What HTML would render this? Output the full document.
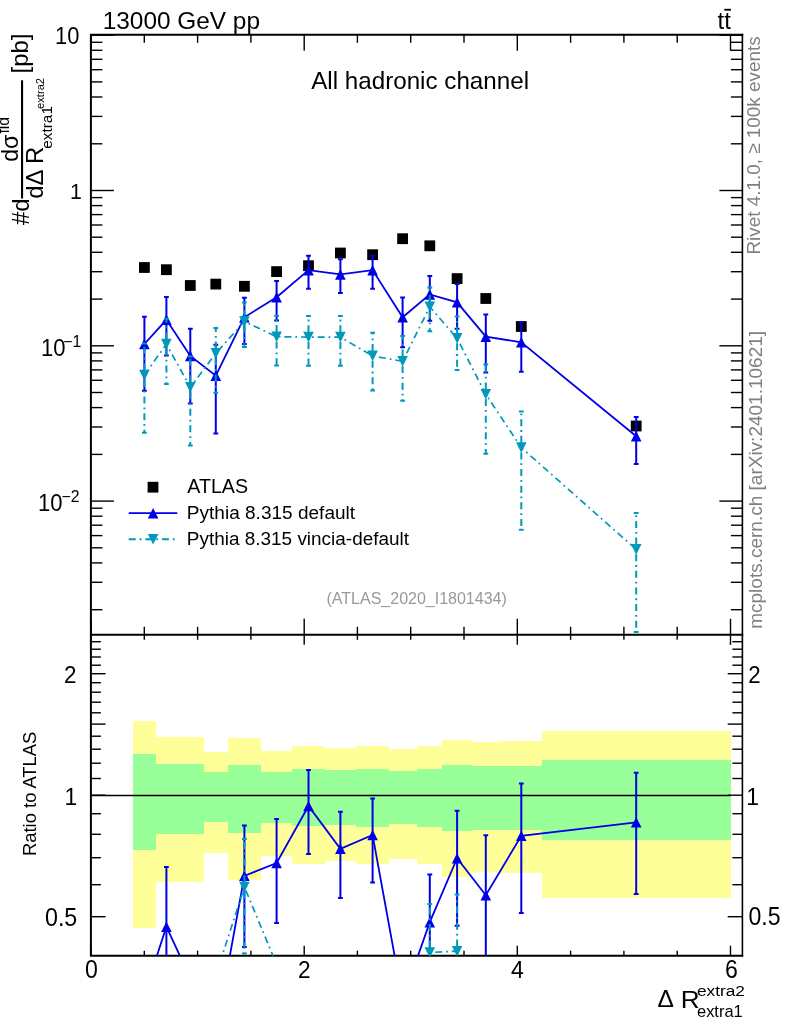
<!DOCTYPE html><html><head><meta charset="utf-8"><title>ATLAS_2020_I1801434</title><style>html,body{margin:0;padding:0;background:#fff;}svg{display:block;will-change:transform;}</style></head><body>
<svg width="786" height="1024" viewBox="0 0 786 1024" font-family="Liberation Sans, Arial, Helvetica, sans-serif">
<rect x="0" y="0" width="786" height="1024" fill="#fff"/>
<defs><clipPath id="cm"><rect x="90.9" y="34.8" width="651.5" height="600.0"/></clipPath><clipPath id="cr"><rect x="90.9" y="634.8" width="651.5" height="320.9000000000001"/></clipPath></defs>
<g shape-rendering="crispEdges">
<rect x="133.3" y="720.5" width="22.4" height="207.1" fill="#ffff99"/>
<rect x="133.3" y="753.8" width="22.4" height="96.0" fill="#99ff99"/>
<rect x="155.7" y="737.0" width="21.1" height="145.0" fill="#ffff99"/>
<rect x="155.7" y="763.8" width="21.1" height="70.0" fill="#99ff99"/>
<rect x="176.8" y="737.0" width="26.9" height="144.5" fill="#ffff99"/>
<rect x="176.8" y="763.8" width="26.9" height="70.0" fill="#99ff99"/>
<rect x="203.7" y="752.0" width="24.4" height="101.4" fill="#ffff99"/>
<rect x="203.7" y="772.0" width="24.4" height="50.0" fill="#99ff99"/>
<rect x="228.1" y="738.0" width="32.9" height="141.5" fill="#ffff99"/>
<rect x="228.1" y="764.5" width="32.9" height="68.2" fill="#99ff99"/>
<rect x="261.0" y="750.7" width="31.0" height="105.6" fill="#ffff99"/>
<rect x="261.0" y="771.5" width="31.0" height="51.8" fill="#99ff99"/>
<rect x="292.0" y="746.4" width="32.8" height="117.1" fill="#ffff99"/>
<rect x="292.0" y="769.0" width="32.8" height="57.0" fill="#99ff99"/>
<rect x="324.8" y="747.6" width="31.4" height="112.9" fill="#ffff99"/>
<rect x="324.8" y="770.2" width="31.4" height="54.9" fill="#99ff99"/>
<rect x="356.2" y="746.4" width="32.8" height="117.5" fill="#ffff99"/>
<rect x="356.2" y="769.0" width="32.8" height="57.5" fill="#99ff99"/>
<rect x="389.0" y="748.8" width="28.1" height="110.4" fill="#ffff99"/>
<rect x="389.0" y="770.6" width="28.1" height="53.6" fill="#99ff99"/>
<rect x="417.1" y="745.8" width="25.3" height="118.2" fill="#ffff99"/>
<rect x="417.1" y="768.7" width="25.3" height="57.9" fill="#99ff99"/>
<rect x="442.4" y="739.9" width="29.7" height="136.6" fill="#ffff99"/>
<rect x="442.4" y="765.0" width="29.7" height="66.3" fill="#99ff99"/>
<rect x="472.1" y="741.6" width="27.7" height="130.7" fill="#ffff99"/>
<rect x="472.1" y="766.4" width="27.7" height="63.2" fill="#99ff99"/>
<rect x="499.8" y="741.1" width="41.7" height="131.6" fill="#ffff99"/>
<rect x="499.8" y="766.0" width="41.7" height="63.7" fill="#99ff99"/>
<rect x="541.5" y="731.2" width="189.0" height="166.5" fill="#ffff99"/>
<rect x="541.5" y="760.2" width="189.0" height="79.5" fill="#99ff99"/>
</g>
<line x1="90.9" y1="795.5" x2="730.5" y2="795.5" stroke="#000" stroke-width="1.4"/>
<g><line x1="90.9" y1="609.7" x2="102.4" y2="609.7" stroke="#000" stroke-width="1.4"/><line x1="742.4" y1="609.7" x2="730.9" y2="609.7" stroke="#000" stroke-width="1.4"/><line x1="90.9" y1="582.3" x2="102.4" y2="582.3" stroke="#000" stroke-width="1.4"/><line x1="742.4" y1="582.3" x2="730.9" y2="582.3" stroke="#000" stroke-width="1.4"/><line x1="90.9" y1="562.9" x2="102.4" y2="562.9" stroke="#000" stroke-width="1.4"/><line x1="742.4" y1="562.9" x2="730.9" y2="562.9" stroke="#000" stroke-width="1.4"/><line x1="90.9" y1="547.8" x2="102.4" y2="547.8" stroke="#000" stroke-width="1.4"/><line x1="742.4" y1="547.8" x2="730.9" y2="547.8" stroke="#000" stroke-width="1.4"/><line x1="90.9" y1="535.6" x2="102.4" y2="535.6" stroke="#000" stroke-width="1.4"/><line x1="742.4" y1="535.6" x2="730.9" y2="535.6" stroke="#000" stroke-width="1.4"/><line x1="90.9" y1="525.2" x2="102.4" y2="525.2" stroke="#000" stroke-width="1.4"/><line x1="742.4" y1="525.2" x2="730.9" y2="525.2" stroke="#000" stroke-width="1.4"/><line x1="90.9" y1="516.2" x2="102.4" y2="516.2" stroke="#000" stroke-width="1.4"/><line x1="742.4" y1="516.2" x2="730.9" y2="516.2" stroke="#000" stroke-width="1.4"/><line x1="90.9" y1="508.2" x2="102.4" y2="508.2" stroke="#000" stroke-width="1.4"/><line x1="742.4" y1="508.2" x2="730.9" y2="508.2" stroke="#000" stroke-width="1.4"/><line x1="90.9" y1="501.1" x2="113.9" y2="501.1" stroke="#000" stroke-width="1.4"/><line x1="742.4" y1="501.1" x2="719.4" y2="501.1" stroke="#000" stroke-width="1.4"/><line x1="90.9" y1="454.4" x2="102.4" y2="454.4" stroke="#000" stroke-width="1.4"/><line x1="742.4" y1="454.4" x2="730.9" y2="454.4" stroke="#000" stroke-width="1.4"/><line x1="90.9" y1="427.0" x2="102.4" y2="427.0" stroke="#000" stroke-width="1.4"/><line x1="742.4" y1="427.0" x2="730.9" y2="427.0" stroke="#000" stroke-width="1.4"/><line x1="90.9" y1="407.6" x2="102.4" y2="407.6" stroke="#000" stroke-width="1.4"/><line x1="742.4" y1="407.6" x2="730.9" y2="407.6" stroke="#000" stroke-width="1.4"/><line x1="90.9" y1="392.5" x2="102.4" y2="392.5" stroke="#000" stroke-width="1.4"/><line x1="742.4" y1="392.5" x2="730.9" y2="392.5" stroke="#000" stroke-width="1.4"/><line x1="90.9" y1="380.3" x2="102.4" y2="380.3" stroke="#000" stroke-width="1.4"/><line x1="742.4" y1="380.3" x2="730.9" y2="380.3" stroke="#000" stroke-width="1.4"/><line x1="90.9" y1="369.9" x2="102.4" y2="369.9" stroke="#000" stroke-width="1.4"/><line x1="742.4" y1="369.9" x2="730.9" y2="369.9" stroke="#000" stroke-width="1.4"/><line x1="90.9" y1="360.9" x2="102.4" y2="360.9" stroke="#000" stroke-width="1.4"/><line x1="742.4" y1="360.9" x2="730.9" y2="360.9" stroke="#000" stroke-width="1.4"/><line x1="90.9" y1="352.9" x2="102.4" y2="352.9" stroke="#000" stroke-width="1.4"/><line x1="742.4" y1="352.9" x2="730.9" y2="352.9" stroke="#000" stroke-width="1.4"/><line x1="90.9" y1="345.8" x2="113.9" y2="345.8" stroke="#000" stroke-width="1.4"/><line x1="742.4" y1="345.8" x2="719.4" y2="345.8" stroke="#000" stroke-width="1.4"/><line x1="90.9" y1="299.1" x2="102.4" y2="299.1" stroke="#000" stroke-width="1.4"/><line x1="742.4" y1="299.1" x2="730.9" y2="299.1" stroke="#000" stroke-width="1.4"/><line x1="90.9" y1="271.7" x2="102.4" y2="271.7" stroke="#000" stroke-width="1.4"/><line x1="742.4" y1="271.7" x2="730.9" y2="271.7" stroke="#000" stroke-width="1.4"/><line x1="90.9" y1="252.3" x2="102.4" y2="252.3" stroke="#000" stroke-width="1.4"/><line x1="742.4" y1="252.3" x2="730.9" y2="252.3" stroke="#000" stroke-width="1.4"/><line x1="90.9" y1="237.2" x2="102.4" y2="237.2" stroke="#000" stroke-width="1.4"/><line x1="742.4" y1="237.2" x2="730.9" y2="237.2" stroke="#000" stroke-width="1.4"/><line x1="90.9" y1="225.0" x2="102.4" y2="225.0" stroke="#000" stroke-width="1.4"/><line x1="742.4" y1="225.0" x2="730.9" y2="225.0" stroke="#000" stroke-width="1.4"/><line x1="90.9" y1="214.6" x2="102.4" y2="214.6" stroke="#000" stroke-width="1.4"/><line x1="742.4" y1="214.6" x2="730.9" y2="214.6" stroke="#000" stroke-width="1.4"/><line x1="90.9" y1="205.6" x2="102.4" y2="205.6" stroke="#000" stroke-width="1.4"/><line x1="742.4" y1="205.6" x2="730.9" y2="205.6" stroke="#000" stroke-width="1.4"/><line x1="90.9" y1="197.6" x2="102.4" y2="197.6" stroke="#000" stroke-width="1.4"/><line x1="742.4" y1="197.6" x2="730.9" y2="197.6" stroke="#000" stroke-width="1.4"/><line x1="90.9" y1="190.5" x2="113.9" y2="190.5" stroke="#000" stroke-width="1.4"/><line x1="742.4" y1="190.5" x2="719.4" y2="190.5" stroke="#000" stroke-width="1.4"/><line x1="90.9" y1="143.8" x2="102.4" y2="143.8" stroke="#000" stroke-width="1.4"/><line x1="742.4" y1="143.8" x2="730.9" y2="143.8" stroke="#000" stroke-width="1.4"/><line x1="90.9" y1="116.4" x2="102.4" y2="116.4" stroke="#000" stroke-width="1.4"/><line x1="742.4" y1="116.4" x2="730.9" y2="116.4" stroke="#000" stroke-width="1.4"/><line x1="90.9" y1="97.0" x2="102.4" y2="97.0" stroke="#000" stroke-width="1.4"/><line x1="742.4" y1="97.0" x2="730.9" y2="97.0" stroke="#000" stroke-width="1.4"/><line x1="90.9" y1="81.9" x2="102.4" y2="81.9" stroke="#000" stroke-width="1.4"/><line x1="742.4" y1="81.9" x2="730.9" y2="81.9" stroke="#000" stroke-width="1.4"/><line x1="90.9" y1="69.7" x2="102.4" y2="69.7" stroke="#000" stroke-width="1.4"/><line x1="742.4" y1="69.7" x2="730.9" y2="69.7" stroke="#000" stroke-width="1.4"/><line x1="90.9" y1="59.3" x2="102.4" y2="59.3" stroke="#000" stroke-width="1.4"/><line x1="742.4" y1="59.3" x2="730.9" y2="59.3" stroke="#000" stroke-width="1.4"/><line x1="90.9" y1="50.3" x2="102.4" y2="50.3" stroke="#000" stroke-width="1.4"/><line x1="742.4" y1="50.3" x2="730.9" y2="50.3" stroke="#000" stroke-width="1.4"/><line x1="90.9" y1="42.3" x2="102.4" y2="42.3" stroke="#000" stroke-width="1.4"/><line x1="742.4" y1="42.3" x2="730.9" y2="42.3" stroke="#000" stroke-width="1.4"/><line x1="90.9" y1="35.2" x2="113.9" y2="35.2" stroke="#000" stroke-width="1.4"/><line x1="742.4" y1="35.2" x2="719.4" y2="35.2" stroke="#000" stroke-width="1.4"/><line x1="91.0" y1="34.8" x2="91.0" y2="50.8" stroke="#000" stroke-width="1.4"/><line x1="91.0" y1="634.8" x2="91.0" y2="618.8" stroke="#000" stroke-width="1.4"/><line x1="91.0" y1="634.8" x2="91.0" y2="644.8" stroke="#000" stroke-width="1.4"/><line x1="91.0" y1="955.7" x2="91.0" y2="945.7" stroke="#000" stroke-width="1.4"/><line x1="144.3" y1="34.8" x2="144.3" y2="42.8" stroke="#000" stroke-width="1.4"/><line x1="144.3" y1="634.8" x2="144.3" y2="626.8" stroke="#000" stroke-width="1.4"/><line x1="144.3" y1="634.8" x2="144.3" y2="639.8" stroke="#000" stroke-width="1.4"/><line x1="144.3" y1="955.7" x2="144.3" y2="950.7" stroke="#000" stroke-width="1.4"/><line x1="197.6" y1="34.8" x2="197.6" y2="42.8" stroke="#000" stroke-width="1.4"/><line x1="197.6" y1="634.8" x2="197.6" y2="626.8" stroke="#000" stroke-width="1.4"/><line x1="197.6" y1="634.8" x2="197.6" y2="639.8" stroke="#000" stroke-width="1.4"/><line x1="197.6" y1="955.7" x2="197.6" y2="950.7" stroke="#000" stroke-width="1.4"/><line x1="250.9" y1="34.8" x2="250.9" y2="42.8" stroke="#000" stroke-width="1.4"/><line x1="250.9" y1="634.8" x2="250.9" y2="626.8" stroke="#000" stroke-width="1.4"/><line x1="250.9" y1="634.8" x2="250.9" y2="639.8" stroke="#000" stroke-width="1.4"/><line x1="250.9" y1="955.7" x2="250.9" y2="950.7" stroke="#000" stroke-width="1.4"/><line x1="304.2" y1="34.8" x2="304.2" y2="50.8" stroke="#000" stroke-width="1.4"/><line x1="304.2" y1="634.8" x2="304.2" y2="618.8" stroke="#000" stroke-width="1.4"/><line x1="304.2" y1="634.8" x2="304.2" y2="644.8" stroke="#000" stroke-width="1.4"/><line x1="304.2" y1="955.7" x2="304.2" y2="945.7" stroke="#000" stroke-width="1.4"/><line x1="357.4" y1="34.8" x2="357.4" y2="42.8" stroke="#000" stroke-width="1.4"/><line x1="357.4" y1="634.8" x2="357.4" y2="626.8" stroke="#000" stroke-width="1.4"/><line x1="357.4" y1="634.8" x2="357.4" y2="639.8" stroke="#000" stroke-width="1.4"/><line x1="357.4" y1="955.7" x2="357.4" y2="950.7" stroke="#000" stroke-width="1.4"/><line x1="410.7" y1="34.8" x2="410.7" y2="42.8" stroke="#000" stroke-width="1.4"/><line x1="410.7" y1="634.8" x2="410.7" y2="626.8" stroke="#000" stroke-width="1.4"/><line x1="410.7" y1="634.8" x2="410.7" y2="639.8" stroke="#000" stroke-width="1.4"/><line x1="410.7" y1="955.7" x2="410.7" y2="950.7" stroke="#000" stroke-width="1.4"/><line x1="464.0" y1="34.8" x2="464.0" y2="42.8" stroke="#000" stroke-width="1.4"/><line x1="464.0" y1="634.8" x2="464.0" y2="626.8" stroke="#000" stroke-width="1.4"/><line x1="464.0" y1="634.8" x2="464.0" y2="639.8" stroke="#000" stroke-width="1.4"/><line x1="464.0" y1="955.7" x2="464.0" y2="950.7" stroke="#000" stroke-width="1.4"/><line x1="517.3" y1="34.8" x2="517.3" y2="50.8" stroke="#000" stroke-width="1.4"/><line x1="517.3" y1="634.8" x2="517.3" y2="618.8" stroke="#000" stroke-width="1.4"/><line x1="517.3" y1="634.8" x2="517.3" y2="644.8" stroke="#000" stroke-width="1.4"/><line x1="517.3" y1="955.7" x2="517.3" y2="945.7" stroke="#000" stroke-width="1.4"/><line x1="570.6" y1="34.8" x2="570.6" y2="42.8" stroke="#000" stroke-width="1.4"/><line x1="570.6" y1="634.8" x2="570.6" y2="626.8" stroke="#000" stroke-width="1.4"/><line x1="570.6" y1="634.8" x2="570.6" y2="639.8" stroke="#000" stroke-width="1.4"/><line x1="570.6" y1="955.7" x2="570.6" y2="950.7" stroke="#000" stroke-width="1.4"/><line x1="623.9" y1="34.8" x2="623.9" y2="42.8" stroke="#000" stroke-width="1.4"/><line x1="623.9" y1="634.8" x2="623.9" y2="626.8" stroke="#000" stroke-width="1.4"/><line x1="623.9" y1="634.8" x2="623.9" y2="639.8" stroke="#000" stroke-width="1.4"/><line x1="623.9" y1="955.7" x2="623.9" y2="950.7" stroke="#000" stroke-width="1.4"/><line x1="677.2" y1="34.8" x2="677.2" y2="42.8" stroke="#000" stroke-width="1.4"/><line x1="677.2" y1="634.8" x2="677.2" y2="626.8" stroke="#000" stroke-width="1.4"/><line x1="677.2" y1="634.8" x2="677.2" y2="639.8" stroke="#000" stroke-width="1.4"/><line x1="677.2" y1="955.7" x2="677.2" y2="950.7" stroke="#000" stroke-width="1.4"/><line x1="730.5" y1="34.8" x2="730.5" y2="50.8" stroke="#000" stroke-width="1.4"/><line x1="730.5" y1="634.8" x2="730.5" y2="618.8" stroke="#000" stroke-width="1.4"/><line x1="730.5" y1="634.8" x2="730.5" y2="644.8" stroke="#000" stroke-width="1.4"/><line x1="730.5" y1="955.7" x2="730.5" y2="945.7" stroke="#000" stroke-width="1.4"/><line x1="90.9" y1="916.7" x2="105.6" y2="916.7" stroke="#000" stroke-width="1.4"/><line x1="742.4" y1="916.7" x2="727.7" y2="916.7" stroke="#000" stroke-width="1.4"/><line x1="90.9" y1="884.7" x2="100.9" y2="884.7" stroke="#000" stroke-width="1.4"/><line x1="742.4" y1="884.7" x2="732.4" y2="884.7" stroke="#000" stroke-width="1.4"/><line x1="90.9" y1="857.7" x2="100.9" y2="857.7" stroke="#000" stroke-width="1.4"/><line x1="742.4" y1="857.7" x2="732.4" y2="857.7" stroke="#000" stroke-width="1.4"/><line x1="90.9" y1="834.3" x2="100.9" y2="834.3" stroke="#000" stroke-width="1.4"/><line x1="742.4" y1="834.3" x2="732.4" y2="834.3" stroke="#000" stroke-width="1.4"/><line x1="90.9" y1="813.7" x2="100.9" y2="813.7" stroke="#000" stroke-width="1.4"/><line x1="742.4" y1="813.7" x2="732.4" y2="813.7" stroke="#000" stroke-width="1.4"/><line x1="90.9" y1="795.2" x2="105.6" y2="795.2" stroke="#000" stroke-width="1.4"/><line x1="742.4" y1="795.2" x2="727.7" y2="795.2" stroke="#000" stroke-width="1.4"/><line x1="90.9" y1="778.5" x2="100.9" y2="778.5" stroke="#000" stroke-width="1.4"/><line x1="742.4" y1="778.5" x2="732.4" y2="778.5" stroke="#000" stroke-width="1.4"/><line x1="90.9" y1="763.2" x2="100.9" y2="763.2" stroke="#000" stroke-width="1.4"/><line x1="742.4" y1="763.2" x2="732.4" y2="763.2" stroke="#000" stroke-width="1.4"/><line x1="90.9" y1="749.2" x2="100.9" y2="749.2" stroke="#000" stroke-width="1.4"/><line x1="742.4" y1="749.2" x2="732.4" y2="749.2" stroke="#000" stroke-width="1.4"/><line x1="90.9" y1="736.2" x2="100.9" y2="736.2" stroke="#000" stroke-width="1.4"/><line x1="742.4" y1="736.2" x2="732.4" y2="736.2" stroke="#000" stroke-width="1.4"/><line x1="90.9" y1="724.1" x2="105.6" y2="724.1" stroke="#000" stroke-width="1.4"/><line x1="742.4" y1="724.1" x2="727.7" y2="724.1" stroke="#000" stroke-width="1.4"/><line x1="90.9" y1="712.8" x2="100.9" y2="712.8" stroke="#000" stroke-width="1.4"/><line x1="742.4" y1="712.8" x2="732.4" y2="712.8" stroke="#000" stroke-width="1.4"/><line x1="90.9" y1="702.2" x2="100.9" y2="702.2" stroke="#000" stroke-width="1.4"/><line x1="742.4" y1="702.2" x2="732.4" y2="702.2" stroke="#000" stroke-width="1.4"/><line x1="90.9" y1="692.2" x2="100.9" y2="692.2" stroke="#000" stroke-width="1.4"/><line x1="742.4" y1="692.2" x2="732.4" y2="692.2" stroke="#000" stroke-width="1.4"/><line x1="90.9" y1="682.7" x2="100.9" y2="682.7" stroke="#000" stroke-width="1.4"/><line x1="742.4" y1="682.7" x2="732.4" y2="682.7" stroke="#000" stroke-width="1.4"/><line x1="90.9" y1="673.7" x2="105.6" y2="673.7" stroke="#000" stroke-width="1.4"/><line x1="742.4" y1="673.7" x2="727.7" y2="673.7" stroke="#000" stroke-width="1.4"/><line x1="90.9" y1="665.2" x2="100.9" y2="665.2" stroke="#000" stroke-width="1.4"/><line x1="742.4" y1="665.2" x2="732.4" y2="665.2" stroke="#000" stroke-width="1.4"/><line x1="90.9" y1="657.0" x2="100.9" y2="657.0" stroke="#000" stroke-width="1.4"/><line x1="742.4" y1="657.0" x2="732.4" y2="657.0" stroke="#000" stroke-width="1.4"/><line x1="90.9" y1="649.2" x2="100.9" y2="649.2" stroke="#000" stroke-width="1.4"/><line x1="742.4" y1="649.2" x2="732.4" y2="649.2" stroke="#000" stroke-width="1.4"/><line x1="90.9" y1="641.7" x2="100.9" y2="641.7" stroke="#000" stroke-width="1.4"/><line x1="742.4" y1="641.7" x2="732.4" y2="641.7" stroke="#000" stroke-width="1.4"/></g>
<path d="M90.9,33.8V956.6M89.9,34.8H743.1999999999999M89.9,634.8H743.1999999999999M89.9,955.7H743.1999999999999" fill="none" stroke="#000" stroke-width="2"/>
<path d="M742.4,33.8V956.6" fill="none" stroke="#000" stroke-width="1.6"/>
<g clip-path="url(#cm)">
<g fill="#000"><rect x="139.0" y="262.1" width="10.8" height="10.8"/><rect x="161.0" y="264.3" width="10.8" height="10.8"/><rect x="184.9" y="280.1" width="10.8" height="10.8"/><rect x="210.4" y="278.7" width="10.8" height="10.8"/><rect x="239.0" y="280.9" width="10.8" height="10.8"/><rect x="271.2" y="266.2" width="10.8" height="10.8"/><rect x="303.1" y="260.3" width="10.8" height="10.8"/><rect x="335.0" y="247.6" width="10.8" height="10.8"/><rect x="367.2" y="249.3" width="10.8" height="10.8"/><rect x="397.2" y="233.3" width="10.8" height="10.8"/><rect x="424.4" y="240.4" width="10.8" height="10.8"/><rect x="451.7" y="273.2" width="10.8" height="10.8"/><rect x="480.4" y="293.1" width="10.8" height="10.8"/><rect x="515.9" y="321.1" width="10.8" height="10.8"/><rect x="630.8" y="420.6" width="10.8" height="10.8"/></g>
<path d="M144.4,344.0V316.8M144.4,344.0V390.8M142.0,316.8H146.8M142.0,390.8H146.8M166.4,319.8V297.0M166.4,319.8V355.6M164.0,297.0H168.8M164.0,355.6H168.8M190.3,355.9V328.8M190.3,355.9V403.6M187.9,328.8H192.7M187.9,403.6H192.7M215.8,375.6V344.8M215.8,375.6V433.6M213.4,344.8H218.2M213.4,433.6H218.2M244.4,317.3V297.8M244.4,317.3V343.9M242.0,297.8H246.8M242.0,343.9H246.8M276.6,297.2V281.0M276.6,297.2V320.5M274.2,281.0H279.0M274.2,320.5H279.0M308.5,270.1V255.8M308.5,270.1V288.8M306.1,255.8H310.9M306.1,288.8H310.9M340.4,274.4V259.2M340.4,274.4V293.0M338.0,259.2H342.8M338.0,293.0H342.8M372.6,270.1V255.8M372.6,270.1V288.8M370.2,255.8H375.0M370.2,288.8H375.0M402.6,317.3V297.4M402.6,317.3V347.2M400.2,297.4H405.0M400.2,347.2H405.0M429.8,294.4V276.0M429.8,294.4V320.8M427.4,276.0H432.2M427.4,320.8H432.2M457.1,302.3V283.9M457.1,302.3V328.7M454.7,283.9H459.5M454.7,328.7H459.5M485.8,336.7V314.4M485.8,336.7V372.4M483.4,314.4H488.2M483.4,372.4H488.2M521.3,342.3V322.3M521.3,342.3V371.7M518.9,322.3H523.7M518.9,371.7H523.7M636.2,436.3V417.1M636.2,436.3V464.0M633.8,417.1H638.6M633.8,464.0H638.6" fill="none" stroke="#0000e8" stroke-width="2"/>
<polyline points="144.4,344.0 166.4,319.8 190.3,355.9 215.8,375.6 244.4,317.3 276.6,297.2 308.5,270.1 340.4,274.4 372.6,270.1 402.6,317.3 429.8,294.4 457.1,302.3 485.8,336.7 521.3,342.3 636.2,436.3" fill="none" stroke="#0000e8" stroke-width="1.8"/>
<g fill="#0000e8"><path d="M139.1,349.3L149.7,349.3L144.4,338.7Z"/><path d="M161.1,325.1L171.7,325.1L166.4,314.5Z"/><path d="M185.0,361.2L195.6,361.2L190.3,350.6Z"/><path d="M210.5,380.9L221.1,380.9L215.8,370.3Z"/><path d="M239.1,322.6L249.7,322.6L244.4,312.0Z"/><path d="M271.3,302.5L281.9,302.5L276.6,291.9Z"/><path d="M303.2,275.4L313.8,275.4L308.5,264.8Z"/><path d="M335.1,279.7L345.7,279.7L340.4,269.1Z"/><path d="M367.3,275.4L377.9,275.4L372.6,264.8Z"/><path d="M397.3,322.6L407.9,322.6L402.6,312.0Z"/><path d="M424.5,299.7L435.1,299.7L429.8,289.1Z"/><path d="M451.8,307.6L462.4,307.6L457.1,297.0Z"/><path d="M480.5,342.0L491.1,342.0L485.8,331.4Z"/><path d="M516.0,347.6L526.6,347.6L521.3,337.0Z"/><path d="M630.9,441.6L641.5,441.6L636.2,431.0Z"/></g>
<path d="M144.4,375.1V343.5M144.4,375.1V432.8M166.4,344.1V318.8M166.4,344.1V384.0M190.3,387.3V356.5M190.3,387.3V445.5M215.8,353.4V328.0M215.8,353.4V392.8M244.4,321.5V302.5M244.4,321.5V347.0M276.6,336.7V316.0M276.6,336.7V365.5M308.5,337.1V316.0M308.5,337.1V365.7M340.4,337.1V316.0M340.4,337.1V365.7M372.6,355.9V332.7M372.6,355.9V390.5M402.6,361.3V336.1M402.6,361.3V400.8M429.8,306.8V287.4M429.8,306.8V331.3M457.1,338.4V316.4M457.1,338.4V370.0M485.8,394.3V364.4M485.8,394.3V453.7M521.3,447.6V411.4M521.3,447.6V529.8M636.2,549.4V513.0M636.2,549.4V632.0" fill="none" stroke="#0099bb" stroke-width="2" stroke-dasharray="1.8 3.92 7.0 3.9" stroke-dashoffset="0.9"/>
<path d="M142.0,343.5H146.8M142.0,432.8H146.8M164.0,318.8H168.8M164.0,384.0H168.8M187.9,356.5H192.7M187.9,445.5H192.7M213.4,328.0H218.2M213.4,392.8H218.2M242.0,302.5H246.8M242.0,347.0H246.8M274.2,316.0H279.0M274.2,365.5H279.0M306.1,316.0H310.9M306.1,365.7H310.9M338.0,316.0H342.8M338.0,365.7H342.8M370.2,332.7H375.0M370.2,390.5H375.0M400.2,336.1H405.0M400.2,400.8H405.0M427.4,287.4H432.2M427.4,331.3H432.2M454.7,316.4H459.5M454.7,370.0H459.5M483.4,364.4H488.2M483.4,453.7H488.2M518.9,411.4H523.7M518.9,529.8H523.7M633.8,513.0H638.6M633.8,632.0H638.6" fill="none" stroke="#0099bb" stroke-width="2"/>
<polyline points="144.4,375.1 166.4,344.1 190.3,387.3 215.8,353.4 244.4,321.5 276.6,336.7 308.5,337.1 340.4,337.1 372.6,355.9 402.6,361.3 429.8,306.8 457.1,338.4 485.8,394.3 521.3,447.6 636.2,549.4" fill="none" stroke="#0099bb" stroke-width="1.7" stroke-dasharray="7.0 3.92 1.8 3.9"/>
<g fill="#0099bb"><path d="M139.1,369.8L149.7,369.8L144.4,380.4Z"/><path d="M161.1,338.8L171.7,338.8L166.4,349.4Z"/><path d="M185.0,382.0L195.6,382.0L190.3,392.6Z"/><path d="M210.5,348.1L221.1,348.1L215.8,358.7Z"/><path d="M239.1,316.2L249.7,316.2L244.4,326.8Z"/><path d="M271.3,331.4L281.9,331.4L276.6,342.0Z"/><path d="M303.2,331.8L313.8,331.8L308.5,342.4Z"/><path d="M335.1,331.8L345.7,331.8L340.4,342.4Z"/><path d="M367.3,350.6L377.9,350.6L372.6,361.2Z"/><path d="M397.3,356.0L407.9,356.0L402.6,366.6Z"/><path d="M424.5,301.5L435.1,301.5L429.8,312.1Z"/><path d="M451.8,333.1L462.4,333.1L457.1,343.7Z"/><path d="M480.5,389.0L491.1,389.0L485.8,399.6Z"/><path d="M516.0,442.3L526.6,442.3L521.3,452.9Z"/><path d="M630.9,544.1L641.5,544.1L636.2,554.7Z"/></g>
</g>
<g clip-path="url(#cr)">
<path d="M166.4,926.7V867.0M166.4,926.7V1018.4M164.0,867.0H168.8M164.0,1018.4H168.8M244.4,875.8V825.4M244.4,875.8V947.1M242.0,825.4H246.8M242.0,947.1H246.8M276.6,863.0V818.9M276.6,863.0V923.0M274.2,818.9H279.0M274.2,923.0H279.0M308.5,806.0V769.9M308.5,806.0V854.0M306.1,769.9H310.9M306.1,854.0H310.9M340.4,848.8V811.7M340.4,848.8V898.0M338.0,811.7H342.8M338.0,898.0H342.8M372.6,835.0V798.4M372.6,835.0V882.5M370.2,798.4H375.0M370.2,882.5H375.0M429.8,922.2V874.6M429.8,922.2V990.1M427.4,874.6H432.2M427.4,990.1H432.2M457.1,858.2V810.7M457.1,858.2V925.7M454.7,810.7H459.5M454.7,925.7H459.5M485.8,895.2V835.2M485.8,895.2V987.3M483.4,835.2H488.2M483.4,987.3H488.2M521.3,835.8V783.5M521.3,835.8V912.9M518.9,783.5H523.7M518.9,912.9H523.7M636.2,822.3V772.7M636.2,822.3V893.9M633.8,772.7H638.6M633.8,893.9H638.6" fill="none" stroke="#0000e8" stroke-width="2"/>
<polyline points="144.4,994.0 166.4,926.7 190.3,978.2 215.8,1033.0 244.4,875.8 276.6,863.0 308.5,806.0 340.4,848.8 372.6,835.0 402.6,999.5 429.8,922.2 457.1,858.2 485.8,895.2 521.3,835.8 636.2,822.3" fill="none" stroke="#0000e8" stroke-width="1.8"/>
<g fill="#0000e8"><path d="M161.1,932.0L171.7,932.0L166.4,921.4Z"/><path d="M239.1,881.1L249.7,881.1L244.4,870.5Z"/><path d="M271.3,868.3L281.9,868.3L276.6,857.7Z"/><path d="M303.2,811.3L313.8,811.3L308.5,800.7Z"/><path d="M335.1,854.1L345.7,854.1L340.4,843.5Z"/><path d="M367.3,840.3L377.9,840.3L372.6,829.7Z"/><path d="M424.5,927.5L435.1,927.5L429.8,916.9Z"/><path d="M451.8,863.5L462.4,863.5L457.1,852.9Z"/><path d="M480.5,900.5L491.1,900.5L485.8,889.9Z"/><path d="M516.0,841.1L526.6,841.1L521.3,830.5Z"/><path d="M630.9,827.6L641.5,827.6L636.2,817.0Z"/></g>
<path d="M244.4,887.0V839.0M244.4,887.0V953.5M429.8,952.5V903.9M429.8,952.5V1017.4M457.1,951.2V894.5M457.1,951.2V1032.7" fill="none" stroke="#0099bb" stroke-width="2" stroke-dasharray="1.8 3.92 7.0 3.9" stroke-dashoffset="0.9"/>
<path d="M242.0,839.0H246.8M242.0,953.5H246.8M427.4,903.9H432.2M427.4,1017.4H432.2M454.7,894.5H459.5M454.7,1032.7H459.5" fill="none" stroke="#0099bb" stroke-width="2"/>
<polyline points="144.4,1074.8 166.4,988.6 190.3,1059.8 215.8,975.3 244.4,887.0 276.6,964.4 308.5,980.8 340.4,1013.8 372.6,1058.2 402.6,1113.8 429.8,952.5 457.1,951.2 485.8,1044.2 521.3,1109.9 636.2,1115.9" fill="none" stroke="#0099bb" stroke-width="1.7" stroke-dasharray="7.0 3.92 1.8 3.9"/>
<g fill="#0099bb"><path d="M239.1,881.7L249.7,881.7L244.4,892.3Z"/><path d="M424.5,947.2L435.1,947.2L429.8,957.8Z"/><path d="M451.8,945.9L462.4,945.9L457.1,956.5Z"/></g>
</g>
<rect x="147.6" y="481.8" width="10.8" height="10.8" fill="#000"/>
<line x1="128.7" y1="513.1" x2="177.3" y2="513.1" stroke="#0000e8" stroke-width="1.8"/>
<g fill="#0000e8"><path d="M147.8,518.5L158.4,518.5L153.1,507.9Z"/></g>
<line x1="128.7" y1="539.3" x2="177" y2="539.3" stroke="#0099bb" stroke-width="2" stroke-dasharray="7.0 3.92 1.8 3.9"/>
<g fill="#0099bb"><path d="M147.8,533.9L158.4,533.9L153.1,544.5Z"/></g>
<text x="102.7" y="29.1" font-size="24.4">13000 GeV pp</text>
<text x="311.2" y="88.9" font-size="24.2">All hadronic channel</text>
<text x="717.5" y="29.4" font-size="24">tt</text>
<rect x="724.3" y="8.8" width="6.6" height="1.9" fill="#000"/>
<text x="326.5" y="604.2" font-size="16" fill="#999">(ATLAS_2020_I1801434)</text>
<text transform="translate(759.9,253) rotate(-90)" x="-1.6" y="0" font-size="18.9" fill="#808080">Rivet 4.1.0, ≥ 100k events</text>
<text transform="translate(762,627.6) rotate(-90)" x="-1.2" y="0" font-size="19" fill="#808080">mcplots.cern.ch [arXiv:2401.10621]</text>
<text transform="translate(55.05,44.06) scale(0.930,1)" font-size="23.59">10</text>
<text transform="translate(70.01,199.00) scale(0.930,1)" font-size="22.82">1</text>
<text transform="translate(40.97,356.46) scale(0.930,1)" font-size="23.73">10</text>
<text transform="translate(37.97,511.46) scale(0.930,1)" font-size="23.73">10</text>
<text transform="translate(64.08,682.80) scale(0.930,1)" font-size="24.07">2</text>
<text transform="translate(64.54,804.90) scale(0.930,1)" font-size="24.56">1</text>
<text transform="translate(44.98,925.55) scale(0.930,1)" font-size="25.00">0.5</text>
<text transform="translate(748.31,682.80) scale(0.930,1)" font-size="23.93">2</text>
<text transform="translate(746.30,804.90) scale(0.930,1)" font-size="24.71">1</text>
<text transform="translate(748.42,925.25) scale(0.930,1)" font-size="24.86">0.5</text>
<text transform="translate(84.92,978.25) scale(0.930,1)" font-size="24.86">0</text>
<text transform="translate(298.00,977.90) scale(0.930,1)" font-size="24.36">2</text>
<text transform="translate(510.98,977.90) scale(0.930,1)" font-size="24.71">4</text>
<text transform="translate(724.94,978.25) scale(0.930,1)" font-size="24.86">6</text>
<text transform="translate(63.17,346.90) scale(1.000,1)" font-size="15.84">−1</text>
<text transform="translate(61.58,502.00) scale(1.000,1)" font-size="15.76">−2</text>
<text transform="translate(657.56,1007.40) scale(1.021,1)" font-size="24.00">Δ</text>
<text transform="translate(680.66,1007.60) scale(1.067,1)" font-size="24.50">R</text>
<text transform="translate(696.97,996.45) scale(1.122,1)" font-size="15.40">extra2</text>
<text transform="translate(697.01,1016.74) scale(1.016,1)" font-size="16.19">extra1</text>
<text transform="translate(187.26,493.11) scale(1.019,1)" font-size="19.30">ATLAS</text>
<text transform="translate(186.84,519.20) scale(0.997,1)" font-size="19.10">Pythia 8.315 default</text>
<text transform="translate(186.85,545.00) scale(0.992,1)" font-size="19.10">Pythia 8.315 vincia-default</text>
<text transform="translate(36.2,854.5) rotate(-90)" x="-1.5" y="0" font-size="18.4">Ratio to ATLAS</text>
<g transform="rotate(-90)" font-size="24">
<text x="-225" y="28.6">#d</text>
<text x="-161.8" y="18.2" font-size="23.2">dσ</text>
<text x="-133.6" y="9.1" font-size="15.8">fid</text>
<text x="-198.8" y="43">dΔ R</text>
<text x="-148.8" y="52.4" font-size="15.4">extra1</text>
<text x="-109" y="44.1" font-size="11.2">extra2</text>
<text x="-73.5" y="28">[pb]</text>
</g>
<rect x="21" y="80.3" width="2.1" height="118.2" fill="#000"/>
</svg></body></html>
